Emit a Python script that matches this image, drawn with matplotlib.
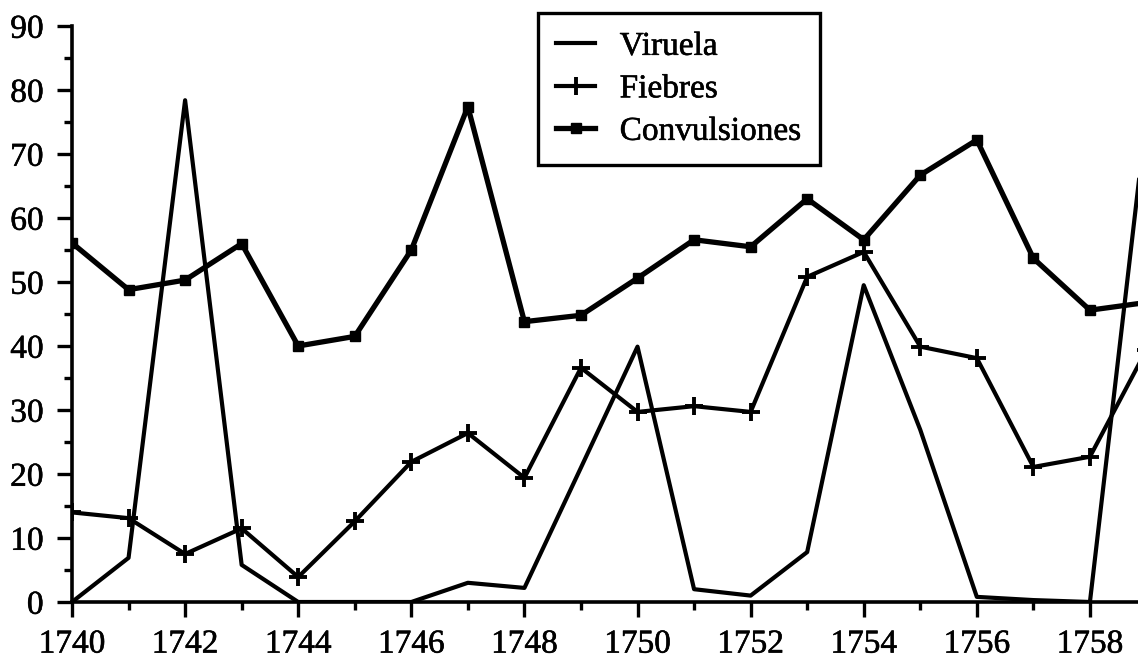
import matplotlib
matplotlib.use("Agg")
import matplotlib.pyplot as plt
import matplotlib.patheffects as pe
from matplotlib.ticker import MultipleLocator

years = [1740, 1741, 1742, 1743, 1744, 1745, 1746, 1747, 1748, 1749,
         1750, 1751, 1752, 1753, 1754, 1755, 1756, 1757, 1758, 1759]
viruela = [0, 6.9, 78.4, 5.8, 0, 0, 0, 3.0, 2.2, 21,
           39.9, 2.0, 1.0, 7.8, 49.5, 26.9, 0.8, 0.3, 0, 76]
fiebres = [14, 13.1, 7.5, 11.5, 3.9, 12.6, 21.9, 26.4, 19.4, 36.6,
           29.7, 30.6, 29.7, 50.8, 54.7, 39.9, 38.1, 21.1, 22.7, 39.4]
convulsiones = [56.1, 48.8, 50.3, 56.0, 40.0, 41.5, 55.0, 77.4, 43.8, 44.8,
                50.6, 56.6, 55.5, 63.0, 56.6, 66.7, 72.2, 53.7, 45.6, 46.8]
labels = ["Viruela", "Fiebres", "Convulsiones"]
xtick_labels = ["1740", "1742", "1744", "1746", "1748", "1750", "1752", "1754", "1756", "1758"]
yticks = [0, 10, 20, 30, 40, 50, 60, 70, 80, 90]

plt.rcParams['font.family'] = ['Liberation Serif', 'DejaVu Serif']

W, H = 1138, 668
fig = plt.figure(figsize=(W / 100, H / 100), dpi=100)
left, bottom, top = 72, 602, 26
ax = fig.add_axes([left / W, (H - bottom) / H, (W - left) / W, (bottom - top) / H])

ax.plot(years, viruela, color='black', lw=3.0, label=labels[0])
ax.plot(years, fiebres, color='black', lw=3.0, marker='+', ms=13, mew=2.8, label=labels[1])
ax.plot(years, convulsiones, color='black', lw=3.8, marker='s', ms=7.5, label=labels[2])

ax.set_xlim(1740, 1758.85)
ax.set_ylim(0, 90)
ax.set_xticks([int(t) for t in xtick_labels])
ax.set_xticklabels(xtick_labels)
ax.xaxis.set_minor_locator(MultipleLocator(1))
ax.set_yticks(yticks)
ax.set_yticklabels([str(v) for v in yticks])
ax.yaxis.set_minor_locator(MultipleLocator(5))

for s in ['top', 'right']:
    ax.spines[s].set_visible(False)
for s in ['left', 'bottom']:
    ax.spines[s].set_linewidth(2.6)
    ax.spines[s].set_color('black')

ax.tick_params(which='major', direction='out', length=10.5, width=2.4, labelsize=24, colors='black')
ax.tick_params(which='minor', direction='out', length=6, width=2.4)
ax.tick_params(axis='x', which='major', pad=9)
ax.tick_params(axis='y', which='major', pad=10)

leg = ax.legend(loc='upper left', bbox_to_anchor=(538 / W, 1 - 13 / H),
                bbox_transform=fig.transFigure, borderaxespad=0,
                fancybox=False, frameon=True, fontsize=24,
                handlelength=1.15, handletextpad=0.75, labelspacing=0.36,
                borderpad=0.55)
fr = leg.get_frame()
fr.set_edgecolor('black')
fr.set_linewidth(2.4)
fr.set_alpha(1)

heavy = [pe.withStroke(linewidth=0.4, foreground='black')]
for t in ax.get_xticklabels() + ax.get_yticklabels() + leg.get_texts():
    t.set_path_effects(heavy)

fig.savefig("out.png", dpi=100)
